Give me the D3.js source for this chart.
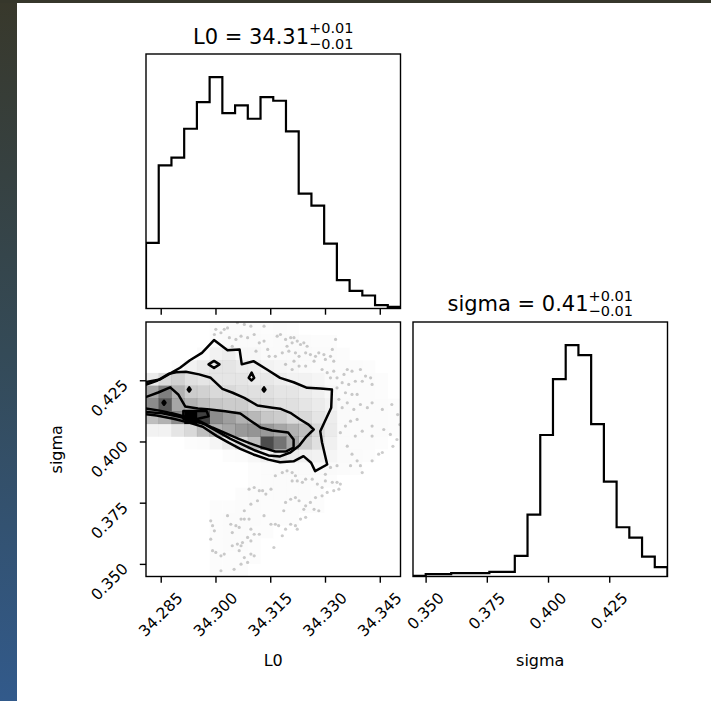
<!DOCTYPE html>
<html><head><meta charset="utf-8">
<script src="https://cdn.jsdelivr.net/npm/d3@7"></script>
<style>body{margin:0;background:#fff}svg{display:block}text{font-family:"DejaVu Sans",sans-serif;fill:#000}</style>
</head><body><svg id="c" width="711" height="701"></svg>
<script>
// ---------------- data ----------------
const L0_RANGE = [34.28097, 34.35068];
const SIGMA_RANGE = [0.34485, 0.44880];
const L0_TICKS = [34.285, 34.300, 34.315, 34.330, 34.345];
const SIGMA_TICKS = [0.350, 0.375, 0.400, 0.425];
const TITLE_L0 = ["L0 = 34.31", "+0.01", "\u22120.01"];
const TITLE_SIGMA = ["sigma = 0.41", "+0.01", "\u22120.01"];
const LABEL_X = ["L0", "sigma"];
const LABEL_Y = "sigma";
const L0_COUNTS = [197, 430, 453, 540, 620, 695, 587, 610, 570, 635, 624, 532, 345, 309, 195, 85, 53, 39, 10, 5];
const SIGMA_COUNTS = [2, 7, 7, 10, 10, 10, 14, 14, 62, 186, 425, 593, 695, 665, 458, 285, 148, 117, 60, 28];
// 2D density (relative to max), rows = sigma bins from highest to lowest, cols = L0 bins
const DENSITY_ROWS = [
 [0,0,0,0,0,0.01,0.015,0.015,0.015,0.01,0.015,0.01,0,0,0,0,0,0,0,0],
 [0,0,0,0,0,0.015,0.02,0.02,0.02,0.015,0.02,0.02,0.015,0.01,0.01,0,0,0,0,0],
 [0,0,0,0,0.015,0.05,0.07,0.03,0.03,0.02,0.02,0.02,0.02,0.015,0.015,0.01,0,0,0,0],
 [0,0,0.01,0.05,0.08,0.10,0.10,0.08,0.07,0.05,0.04,0.03,0.02,0.015,0.015,0.015,0.015,0.01,0,0],
 [0.08,0.15,0.18,0.12,0.1,0.1,0.1,0.1,0.08,0.09,0.07,0.05,0.05,0.04,0.02,0.015,0.015,0.015,0.01,0],
 [0.35,0.5,0.3,0.2,0.18,0.15,0.15,0.12,0.12,0.12,0.1,0.1,0.08,0.06,0.03,0.015,0.015,0.015,0.01,0],
 [0.45,0.65,0.35,0.3,0.25,0.22,0.2,0.2,0.15,0.15,0.12,0.12,0.1,0.08,0.05,0.02,0.015,0.015,0.015,0.01],
 [0.25,0.3,0.45,1.0,0.75,0.45,0.38,0.3,0.28,0.22,0.2,0.15,0.15,0.1,0.07,0.02,0.015,0.015,0.015,0.01],
 [0.05,0.05,0.1,0.15,0.25,0.3,0.35,0.4,0.42,0.4,0.35,0.3,0.25,0.15,0.08,0.02,0.015,0.015,0.015,0.01],
 [0,0,0,0.01,0.015,0.04,0.08,0.15,0.25,0.7,0.55,0.35,0.2,0.12,0.06,0.02,0.015,0.015,0.01,0],
 [0,0,0,0,0,0,0.01,0.015,0.03,0.06,0.1,0.07,0.06,0.05,0.04,0.02,0.015,0.01,0,0],
 [0,0,0,0,0,0,0,0,0.01,0.015,0.02,0.02,0.02,0.02,0.02,0.015,0.01,0,0,0],
 [0,0,0,0,0,0,0,0,0.01,0.015,0.015,0.015,0.015,0.015,0.01,0,0,0,0,0],
 [0,0,0,0,0,0,0,0.01,0.015,0.015,0.015,0.015,0.015,0.01,0,0,0,0,0,0],
 [0,0,0,0,0,0.01,0.01,0.015,0.015,0.01,0.01,0.01,0.01,0.01,0,0,0,0,0,0],
 [0,0,0,0,0,0.01,0.015,0.015,0.015,0.01,0.01,0.01,0,0,0,0,0,0,0,0],
 [0,0,0,0,0,0.01,0.015,0.015,0.01,0.01,0,0,0,0,0,0,0,0,0,0],
 [0,0,0,0,0,0.01,0.015,0.015,0.01,0,0,0,0,0,0,0,0,0,0,0],
 [0,0,0,0,0,0.01,0.01,0.01,0.01,0,0,0,0,0,0,0,0,0,0,0],
 [0,0,0,0,0,0.01,0.01,0.01,0,0,0,0,0,0,0,0,0,0,0,0]
];
// contour lines [L0, sigma]
const CONTOUR_OUTER = [[34.2780,0.4242],[34.2807,0.4242],[34.2848,0.4253],[34.2880,0.4281],[34.2903,0.4301],[34.2930,0.4332],[34.2963,0.4362],[34.2996,0.4414],[34.3033,0.4373],[34.3066,0.4376],[34.3072,0.4315],[34.3104,0.4328],[34.3141,0.4294],[34.3177,0.4260],[34.3214,0.4242],[34.3251,0.4219],[34.3287,0.4216],[34.3319,0.4212],[34.3317,0.4138],[34.3287,0.4042],[34.3292,0.3995],[34.3306,0.3906],[34.3273,0.3879],[34.3262,0.3913],[34.3241,0.3940],[34.3214,0.3919],[34.3177,0.3915],[34.3145,0.3926],[34.3104,0.3947],[34.3068,0.3970],[34.3036,0.3995],[34.3004,0.4022],[34.2965,0.4060],[34.2930,0.4076],[34.2885,0.4093],[34.2839,0.4106],[34.2807,0.4112],[34.2780,0.4112]];
const CONTOUR_2 = [[34.2780,0.4231],[34.2807,0.4231],[34.2841,0.4249],[34.2873,0.4277],[34.2892,0.4283],[34.2919,0.4285],[34.2955,0.4274],[34.2987,0.4260],[34.3019,0.4215],[34.3047,0.4199],[34.3079,0.4178],[34.3115,0.4147],[34.3156,0.4138],[34.3177,0.4134],[34.3205,0.4117],[34.3232,0.4090],[34.3255,0.4069],[34.3269,0.4049],[34.3249,0.4020],[34.3230,0.3984],[34.3205,0.3955],[34.3177,0.3939],[34.3145,0.3943],[34.3109,0.3963],[34.3073,0.3988],[34.3040,0.4012],[34.3005,0.4041],[34.2972,0.4069],[34.2936,0.4088],[34.2898,0.4102],[34.2854,0.4115],[34.2807,0.4121],[34.2780,0.4121]];
const CONTOUR_3 = [[34.2780,0.4180],[34.2807,0.4180],[34.2843,0.4200],[34.2876,0.4221],[34.2898,0.4192],[34.2917,0.4143],[34.2952,0.4135],[34.2985,0.4131],[34.3027,0.4123],[34.3068,0.4114],[34.3095,0.4086],[34.3123,0.4057],[34.3155,0.4045],[34.3199,0.4037],[34.3214,0.4008],[34.3214,0.3975],[34.3192,0.3959],[34.3164,0.3959],[34.3128,0.3975],[34.3095,0.3992],[34.3062,0.4012],[34.3029,0.4033],[34.2991,0.4057],[34.2958,0.4082],[34.2925,0.4098],[34.2881,0.4115],[34.2843,0.4127],[34.2807,0.4135],[34.2780,0.4135]];
const CONTOUR_INNER = [
 [[34.2912,0.4124],[34.2976,0.4124],[34.2981,0.4103],[34.2944,0.4090],[34.2912,0.4093]]
];
const CONTOUR_ISLANDS = [
 [[34.2981,0.4315],[34.2996,0.4329],[34.3011,0.4315],[34.2996,0.4300]],
 [[34.3099,0.4281],[34.3106,0.4260],[34.3099,0.4249],[34.3091,0.4260]],
 [[34.2928,0.4221],[34.2932,0.4212],[34.2928,0.4204],[34.2924,0.4212]],
 [[34.3133,0.4221],[34.3137,0.4212],[34.3133,0.4204],[34.3129,0.4212]],
 [[34.2859,0.4166],[34.2863,0.4158],[34.2859,0.4150],[34.2855,0.4158]]
];
// individual samples outside the outer contour [L0, sigma]
const SAMPLES = [[34.3169,0.4430],[34.3178,0.4437],[34.3192,0.4417],[34.3206,0.4424],[34.3215,0.4424],[34.3210,0.4403],[34.3224,0.4410],[34.3233,0.4396],[34.3242,0.4403],[34.3251,0.4389],[34.3196,0.4389],[34.3201,0.4369],[34.3183,0.4362],[34.3164,0.4348],[34.3219,0.4362],[34.3229,0.4348],[34.3247,0.4362],[34.3260,0.4355],[34.3283,0.4362],[34.3297,0.4355],[34.3301,0.4335],[34.3315,0.4348],[34.3324,0.4328],[34.3270,0.4328],[34.3247,0.4308],[34.3229,0.4308],[34.3210,0.4294],[34.3192,0.4315],[34.3215,0.4328],[34.3292,0.4294],[34.3306,0.4281],[34.3324,0.4287],[34.3315,0.4260],[34.3333,0.4260],[34.3352,0.4274],[34.3361,0.4294],[34.3374,0.4287],[34.3397,0.4294],[34.3411,0.4267],[34.3425,0.4260],[34.3429,0.4233],[34.3402,0.4246],[34.3383,0.4246],[34.3365,0.4233],[34.3347,0.4240],[34.3333,0.4219],[34.3374,0.4192],[34.3388,0.4192],[34.3356,0.4199],[34.3338,0.4172],[34.3361,0.4158],[34.3347,0.4138],[34.3379,0.4131],[34.3397,0.4151],[34.3416,0.4138],[34.3429,0.4158],[34.3457,0.4131],[34.3388,0.4090],[34.3370,0.4083],[34.3356,0.4063],[34.3402,0.4042],[34.3429,0.4063],[34.3461,0.4049],[34.3479,0.4029],[34.3429,0.4022],[34.3383,0.4022],[34.3342,0.4036],[34.3361,0.3981],[34.3274,0.4348],[34.3320,0.4376],[34.3329,0.4417],
[34.2997,0.4437],[34.3015,0.4444],[34.3024,0.4458],[34.3038,0.4424],[34.3056,0.4417],[34.3070,0.4430],[34.3088,0.4424],[34.3106,0.4437],[34.3120,0.4403],[34.3133,0.4410],[34.3143,0.4376],[34.3147,0.4348],[34.3111,0.4369],[34.3097,0.4471],[34.3079,0.4478],[34.3060,0.4485],[34.3133,0.4471],[34.3001,0.4458],[34.3033,0.4464],[34.3046,0.4389],
[34.3092,0.3805],[34.3106,0.3812],[34.3120,0.3799],[34.3129,0.3799],[34.3138,0.3785],[34.3152,0.3805],[34.3115,0.3758],[34.3097,0.3744],[34.3079,0.3717],[34.3070,0.3683],[34.3033,0.3697],[34.3042,0.3662],[34.3056,0.3656],[34.3065,0.3649],[34.3079,0.3683],[34.3092,0.3683],[34.3097,0.3642],[34.3106,0.3621],[34.3120,0.3621],[34.3133,0.3697],[34.3152,0.3662],[34.2987,0.3676],[34.2992,0.3656],[34.2997,0.3635],[34.2987,0.3601],[34.2992,0.3554],[34.3001,0.3547],[34.3015,0.3533],[34.3024,0.3540],[34.3046,0.3574],[34.3060,0.3581],[34.3070,0.3574],[34.3074,0.3587],[34.3065,0.3554],[34.3079,0.3526],[34.3088,0.3506],[34.3097,0.3540],[34.3106,0.3533],[34.3070,0.3499],[34.3051,0.3478],[34.3015,0.3472],[34.3088,0.3608],[34.3097,0.3594],[34.3046,0.3628],
[34.3164,0.3860],[34.3183,0.3873],[34.3196,0.3880],[34.3210,0.3873],[34.3219,0.3860],[34.3224,0.3839],[34.3210,0.3839],[34.3238,0.3833],[34.3247,0.3846],[34.3265,0.3846],[34.3279,0.3826],[34.3292,0.3812],[34.3301,0.3839],[34.3320,0.3833],[34.3333,0.3833],[34.3342,0.3826],[34.3338,0.3805],[34.3324,0.3799],[34.3306,0.3792],[34.3292,0.3778],[34.3274,0.3771],[34.3260,0.3751],[34.3247,0.3737],[34.3242,0.3723],[34.3270,0.3723],[34.3283,0.3717],[34.3192,0.3751],[34.3187,0.3717],[34.3206,0.3764],[34.3219,0.3771],[34.3229,0.3758],[34.3164,0.3662],[34.3173,0.3656],[34.3183,0.3615],[34.3192,0.3642],[34.3206,0.3662],[34.3219,0.3656],[34.3224,0.3642],[34.3233,0.3683],[34.3247,0.3690],[34.3160,0.3567],[34.3301,0.3866],[34.3315,0.3894],[34.3374,0.3948],[34.3388,0.3921],[34.3397,0.3901],[34.3402,0.3873],[34.3429,0.3921],[34.3447,0.3948],[34.3457,0.3955],[34.3370,0.3901],[34.3333,0.3901],
[34.3497,0.4008],[34.3505,0.4069],[34.3486,0.3980],[34.3499,0.4110],[34.3483,0.4151]];

// ---------------- layout ----------------
const W = 711, H = 701;
const svg = d3.select("#c");
const defs = svg.append("defs");
const grad = defs.append("linearGradient").attr("id","bg").attr("x1",0).attr("y1",0).attr("x2",0).attr("y2",1);
grad.append("stop").attr("offset","0%").attr("stop-color","#38382b");
grad.append("stop").attr("offset","50%").attr("stop-color","#344a57");
grad.append("stop").attr("offset","100%").attr("stop-color","#325a8b");
svg.append("rect").attr("x",0).attr("y",0).attr("width",17).attr("height",H).attr("fill","url(#bg)");
svg.append("rect").attr("x",0).attr("y",0).attr("width",W).attr("height",3).attr("fill","#36372b");

const C1 = [146, 400.5], C2 = [413, 667.5];
const R1 = [54, 308.5], R2 = [322, 576.5];
const xL0 = d3.scaleLinear().domain(L0_RANGE).range(C1);
const xSig = d3.scaleLinear().domain(SIGMA_RANGE).range(C2);
const ySig = d3.scaleLinear().domain(SIGMA_RANGE).range([R2[1], R2[0]]);
const yH1 = d3.scaleLinear().domain([0, 1.1*d3.max(L0_COUNTS)]).range([R1[1], R1[0]]);
const yH2 = d3.scaleLinear().domain([0, 1.1*d3.max(SIGMA_COUNTS)]).range([R2[1], R2[0]]);

const LW = 2.2, CLW = 2.5, TICKFS = 15.5;

function stepPath(counts, range, xs, ys){
  const n = counts.length, w = (range[1]-range[0])/n;
  const pts = [[range[0],0]];
  counts.forEach((c,i)=>{pts.push([range[0]+i*w,c]); pts.push([range[0]+(i+1)*w,c]);});
  pts.push([range[1],0]);
  return d3.line().x(d=>xs(d[0])).y(d=>ys(d[1]))(pts);
}
function clip(id, xr, yr){
  defs.append("clipPath").attr("id",id).append("rect")
    .attr("x",xr[0]).attr("y",yr[0]).attr("width",xr[1]-xr[0]).attr("height",yr[1]-yr[0]);
}
function frame(xr, yr){
  svg.append("rect").attr("x",xr[0]).attr("y",yr[0]).attr("width",xr[1]-xr[0]).attr("height",yr[1]-yr[0])
    .attr("fill","none").attr("stroke","#000").attr("stroke-width",1.4);
}
function xTicks(scale, vals, yb, labels){
  const ax = svg.append("g").attr("transform",`translate(0,${yb})`)
    .call(d3.axisBottom(scale).tickValues(vals).tickSize(6.2).tickFormat(""));
  ax.select(".domain").remove();
  ax.selectAll("line").attr("stroke","#000").attr("stroke-width",1.4);
  if(!labels) return;
  vals.forEach(v=>{
    const t = svg.append("text").attr("font-size",TICKFS).attr("text-anchor","end").text(d3.format(".3f")(v));
    const L = t.node().getComputedTextLength();
    const ax_ = scale(v) + 0.3535*(L + 1.164*TICKFS) - 2.6, ay = yb + 22.6;
    t.attr("x",ax_).attr("y",ay).attr("transform",`rotate(-45,${ax_},${ay})`);
  });
}
function yTicks(scale, vals, xl){
  const ax = svg.append("g").attr("transform",`translate(${xl},0)`)
    .call(d3.axisLeft(scale).tickValues(vals).tickSize(6.2).tickFormat(""));
  ax.select(".domain").remove();
  ax.selectAll("line").attr("stroke","#000").attr("stroke-width",1.4);
  vals.forEach(v=>{
    const ax_ = xl - 17, ay = scale(v) + 6;
    svg.append("text").attr("font-size",TICKFS).attr("text-anchor","end").text(d3.format(".3f")(v))
      .attr("x",ax_).attr("y",ay).attr("transform",`rotate(-45,${ax_},${ay})`);
  });
}
function title(cx, base, parts){
  const g = svg.append("g");
  const m = g.append("text").attr("y",base).attr("font-size",21).text(parts[0]);
  const s1 = g.append("text").attr("y",base-10.5).attr("font-size",14.5).text(parts[1]);
  const s2 = g.append("text").attr("y",base+5).attr("font-size",14.5).text(parts[2]);
  const mw = m.node().getComputedTextLength();
  const sw = Math.max(s1.node().getComputedTextLength(), s2.node().getComputedTextLength());
  const x0 = cx - (mw + sw)/2;
  m.attr("x",x0); s1.attr("x",x0+mw); s2.attr("x",x0+mw);
}

// ---- panel 1: L0 histogram ----
clip("c1", C1, R1);
svg.append("path").attr("d", stepPath(L0_COUNTS, L0_RANGE, xL0, yH1)).attr("clip-path","url(#c1)")
  .attr("fill","none").attr("stroke","#000").attr("stroke-width",LW).attr("stroke-linejoin","miter");
frame(C1, R1);
xTicks(xL0, L0_TICKS, R1[1], false);
title((C1[0]+C1[1])/2, 43.5, TITLE_L0);

// ---- panel 3: sigma histogram ----
clip("c3", C2, R2);
svg.append("path").attr("d", stepPath(SIGMA_COUNTS, SIGMA_RANGE, xSig, yH2)).attr("clip-path","url(#c3)")
  .attr("fill","none").attr("stroke","#000").attr("stroke-width",LW);
frame(C2, R2);
xTicks(xSig, SIGMA_TICKS, R2[1], true);
title((C2[0]+C2[1])/2, 311, TITLE_SIGMA);

// ---- panel 2: 2D ----
clip("c2", C1, R2);
const p2 = svg.append("g").attr("clip-path","url(#c2)");
p2.selectAll("circle.s").data(SAMPLES).join("circle")
  .attr("cx",d=>xL0(d[0])).attr("cy",d=>ySig(d[1])).attr("r",1.6)
  .attr("fill","#000").attr("fill-opacity",0.2);
const line = d3.line().x(d=>xL0(d[0])).y(d=>ySig(d[1])).curve(d3.curveLinearClosed);
p2.append("path").attr("d",line(CONTOUR_OUTER)).attr("fill","#fff");
const nb = DENSITY_ROWS.length;
const dL = (L0_RANGE[1]-L0_RANGE[0])/20, dS = (SIGMA_RANGE[1]-SIGMA_RANGE[0])/nb;
DENSITY_ROWS.forEach((row, r)=>{
  const s1 = SIGMA_RANGE[1] - r*dS, s0 = s1 - dS;
  row.forEach((v, c)=>{
    if(v<=0) return;
    const l0 = L0_RANGE[0] + c*dL;
    p2.append("rect").attr("x",xL0(l0)).attr("y",ySig(s1))
      .attr("width",xL0(l0+dL)-xL0(l0)+0.3).attr("height",ySig(s0)-ySig(s1)+0.3)
      .attr("fill","#000").attr("fill-opacity",v);
  });
});
[CONTOUR_OUTER, CONTOUR_2, CONTOUR_3, ...CONTOUR_INNER, ...CONTOUR_ISLANDS].forEach(cn=>{
  p2.append("path").attr("d",line(cn)).attr("fill","none").attr("stroke","#000")
    .attr("stroke-width",CLW).attr("stroke-linejoin","round");
});
frame(C1, R2);
xTicks(xL0, L0_TICKS, R2[1], true);
yTicks(ySig, SIGMA_TICKS, C1[0]);

// axis labels
svg.append("text").attr("x",(C1[0]+C1[1])/2).attr("y",666).attr("text-anchor","middle").attr("font-size",16).text(LABEL_X[0]);
svg.append("text").attr("x",(C2[0]+C2[1])/2).attr("y",666).attr("text-anchor","middle").attr("font-size",16).text(LABEL_X[1]);
svg.append("text").attr("transform",`translate(62,${(R2[0]+R2[1])/2}) rotate(-90)`).attr("text-anchor","middle").attr("font-size",16).text(LABEL_Y);
</script></body></html>
